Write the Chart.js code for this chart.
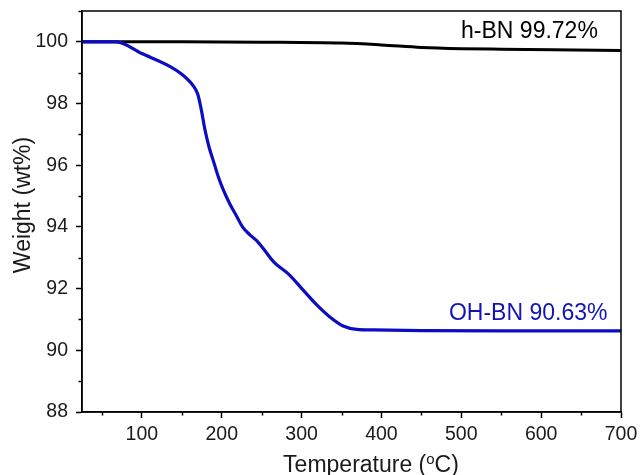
<!DOCTYPE html>
<html>
<head>
<meta charset="utf-8">
<script src="https://cdn.jsdelivr.net/npm/chart.js@4.4.1/dist/chart.umd.min.js"></script>
<style>
html,body{margin:0;padding:0;background:#fff;}
#wrap{width:640px;height:475px;}
</style>
</head>
<body>
<div id="wrap"><canvas id="c" width="640" height="475"></canvas></div>
<script>
// ---- data ----
const ohbnTemp   = [25, 68, 100, 136, 150, 165, 170, 174, 179, 184, 190, 196, 202, 210, 219, 226, 235, 244, 252, 265, 285, 302, 319, 335, 352, 369, 390, 450, 550, 700];
const ohbnWeight = [100, 100, 99.62, 99.19, 98.95, 98.55, 98.3, 97.85, 97.15, 96.6, 96.1, 95.6, 95.2, 94.75, 94.33, 94.0, 93.75, 93.55, 93.3, 92.87, 92.44, 91.95, 91.47, 91.09, 90.79, 90.68, 90.66, 90.64, 90.63, 90.63];
const hbnTemp    = [25, 150, 250, 350, 400, 450, 500, 550, 614, 700];
const hbnWeight  = [100, 100, 99.99, 99.96, 99.90, 99.82, 99.78, 99.76, 99.74, 99.72];
const xMajorTicks = [100, 200, 300, 400, 500, 600, 700];
const xMinorTicks = [50, 150, 250, 350, 450, 550, 650];
const yMajorTicks = [88, 90, 92, 94, 96, 98, 100];
const yMinorTicks = [89, 91, 93, 95, 97, 99, 101];
const labels = [
  {text: 'h-BN 99.72%', color: '#000000'},
  {text: 'OH-BN 90.63%', color: '#1414b4'}
];
const xTitle = ['Temperature (', 'o', 'C)'];
const yTitle = 'Weight (wt%)';

const BLUE = '#0c0cc4';
const FONT = '"Liberation Sans", Arial, sans-serif';

const pts = (xs, ys) => xs.map((x, i) => ({x: x, y: ys[i]}));

const decor = {
  id: 'decor',
  afterDatasetsDraw(chart) {
    const ctx = chart.ctx, a = chart.chartArea;
    const xs = chart.scales.x, ys = chart.scales.y;
    ctx.save();
    ctx.strokeStyle = '#000';
    ctx.lineWidth = 1.5;
    ctx.strokeRect(a.left, a.top, a.right - a.left, a.bottom - a.top);
    ctx.beginPath();
    xMinorTicks.forEach(v => {
      const p = Math.round(xs.getPixelForValue(v)) + 0.5;
      ctx.moveTo(p, a.bottom); ctx.lineTo(p, a.bottom + 3.5);
    });
    yMinorTicks.forEach(v => {
      const p = Math.round(ys.getPixelForValue(v)) + 0.5;
      ctx.moveTo(a.left, p); ctx.lineTo(a.left - 3.5, p);
    });
    ctx.stroke();
    ctx.font = '23px ' + FONT;
    ctx.textAlign = 'right';
    ctx.textBaseline = 'alphabetic';
    ctx.fillStyle = labels[0].color;
    ctx.fillText(labels[0].text, xs.getPixelForValue(671), ys.getPixelForValue(100.14));
    ctx.fillStyle = labels[1].color;
    ctx.fillText(labels[1].text, xs.getPixelForValue(683), ys.getPixelForValue(90.98));
    ctx.fillStyle = '#1a1a1a';
    ctx.textAlign = 'left';
    ctx.font = '23px ' + FONT;
    const w0 = ctx.measureText(xTitle[0]).width;
    ctx.font = '15px ' + FONT;
    const w1 = ctx.measureText(xTitle[1]).width;
    ctx.font = '23px ' + FONT;
    const w2 = ctx.measureText(xTitle[2]).width;
    const total = w0 + w1 + w2;
    const x0 = 371 - total / 2;
    const base = 471.5;
    ctx.fillText(xTitle[0], x0, base);
    ctx.font = '15px ' + FONT;
    ctx.fillText(xTitle[1], x0 + w0, base - 8);
    ctx.font = '23px ' + FONT;
    ctx.fillText(xTitle[2], x0 + w0 + w1, base);
    ctx.translate(30, 205);
    ctx.rotate(-Math.PI / 2);
    ctx.textAlign = 'center';
    ctx.fillText(yTitle, 0, 0);
    ctx.restore();
  }
};

new Chart(document.getElementById('c'), {
  type: 'scatter',
  data: {
    datasets: [
      {label: 'OH-BN', data: pts(ohbnTemp, ohbnWeight), showLine: true, borderColor: BLUE, backgroundColor: BLUE, borderWidth: 3.2, pointRadius: 0, cubicInterpolationMode: 'monotone'},
      {label: 'h-BN', data: pts(hbnTemp, hbnWeight), showLine: true, borderColor: '#000', backgroundColor: '#000', borderWidth: 3, pointRadius: 0, cubicInterpolationMode: 'monotone'}
    ]
  },
  options: {
    responsive: false,
    animation: false,
    events: [],
    layout: {padding: {top: 11, right: 19, left: 0, bottom: 0}},
    plugins: {legend: {display: false}, tooltip: {enabled: false}},
    scales: {
      x: {
        type: 'linear', min: 25, max: 700,
        afterBuildTicks: s => { s.ticks = xMajorTicks.map(v => ({value: v})); },
        afterFit: s => { s.height = 63; s.paddingLeft = 0; s.paddingRight = 0; },
        grid: {drawOnChartArea: false, tickLength: 6, tickWidth: 1.5, tickColor: '#000'},
        border: {display: true, color: '#000', width: 1.5},
        ticks: {color: '#1a1a1a', font: {family: FONT, size: 19.5}, padding: 5, maxRotation: 0, autoSkip: false}
      },
      y: {
        type: 'linear', min: 88, max: 101,
        afterBuildTicks: s => { s.ticks = yMajorTicks.map(v => ({value: v})); },
        afterFit: s => { s.width = 82; s.paddingTop = 0; s.paddingBottom = 0; },
        grid: {drawOnChartArea: false, tickLength: 6, tickWidth: 1.5, tickColor: '#000'},
        border: {display: true, color: '#000', width: 1.5},
        ticks: {color: '#1a1a1a', font: {family: FONT, size: 19.5}, padding: 8, autoSkip: false}
      }
    }
  },
  plugins: [decor]
});
</script>
</body>
</html>
